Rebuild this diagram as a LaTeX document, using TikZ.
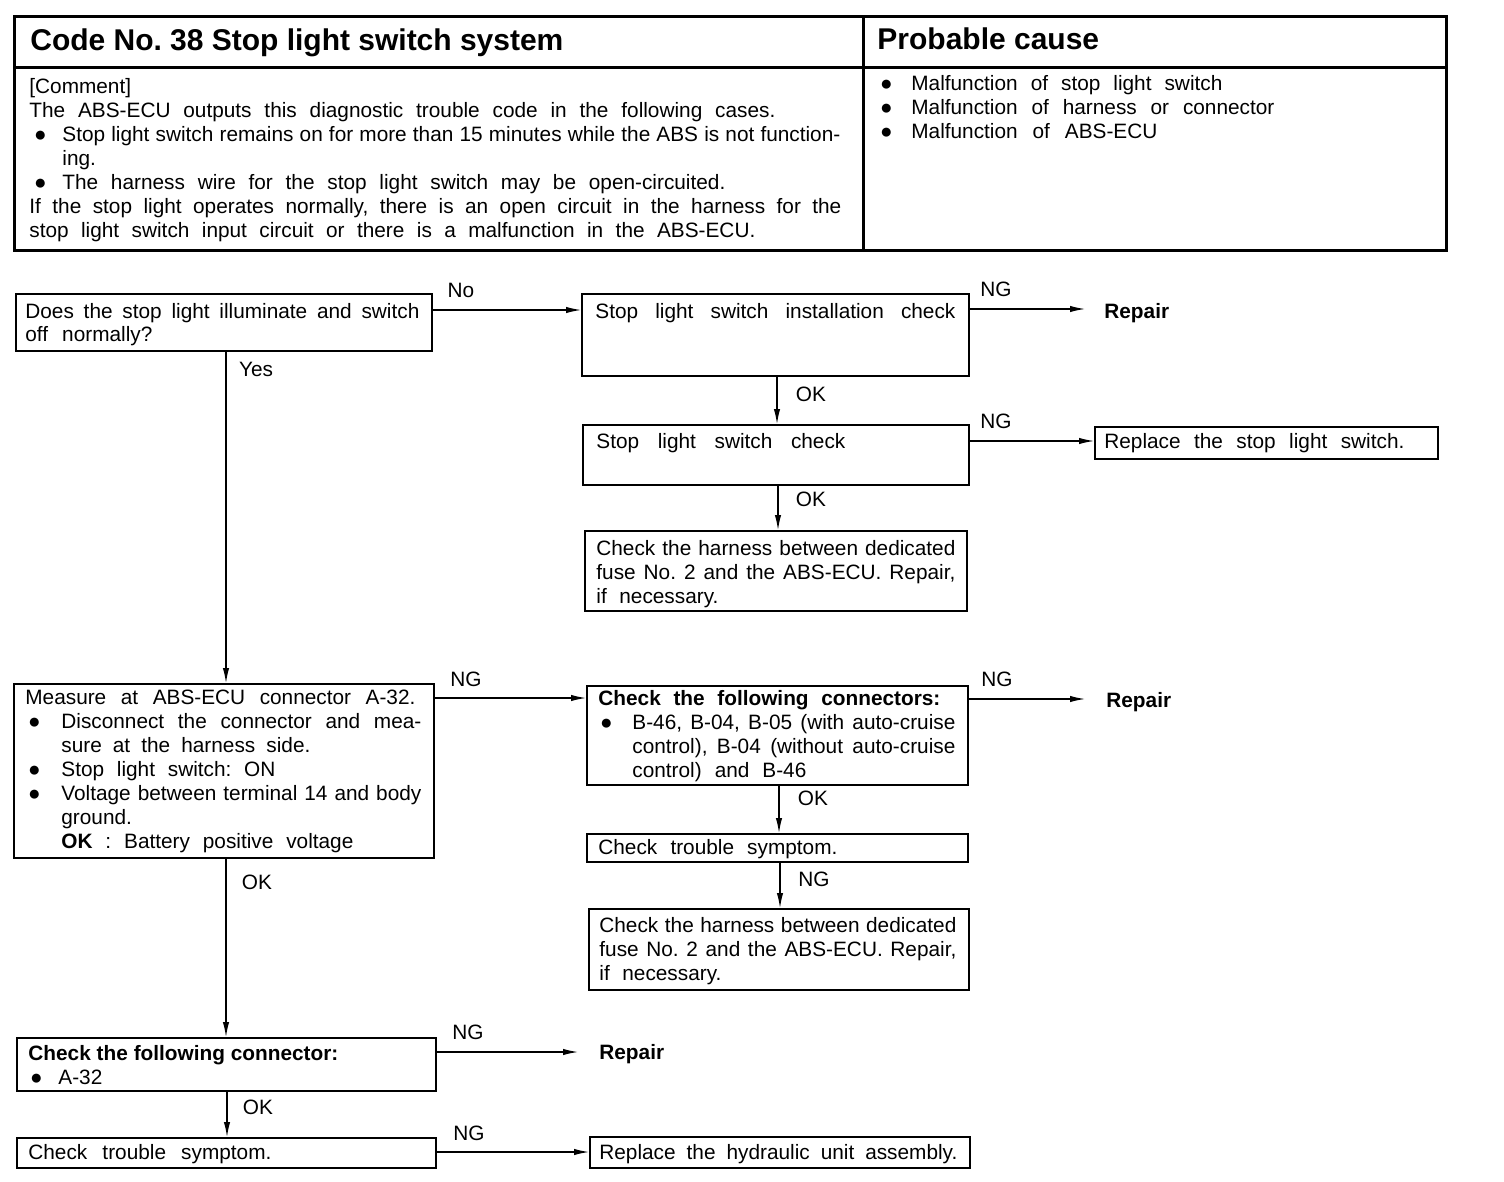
\documentclass[tikz,border=0pt]{standalone}
\usepackage{fontspec}
\setmainfont{Liberation Sans}
\usetikzlibrary{arrows.meta,calc}
\frenchspacing
\newdimen\pxu \pxu=0.5pt
\newcommand\fs{\fontsize{10.4}{12}\selectfont}
\newcommand\sj[2]{\leavevmode\hbox to #1\pxu{\spaceskip=\fontdimen2\font plus 1fil minus \fontdimen4\font\relax #2}}
\newcommand\bdot{●}
\newcommand\bul[2]{\makebox[#1\pxu][l]{\makebox[#2\pxu][c]{\bdot}}}
\newcommand\ind[1]{\hspace*{#1\pxu}}
\begin{document}
\begin{tikzpicture}[x=0.5pt,y=-0.5pt,font=\fs,
  bx/.style={draw, line width=1.1pt, inner sep=0pt, anchor=north west},
  tb/.style={draw, line width=1.3pt, inner sep=0pt, anchor=north west},
  txt/.style={anchor=base west, inner sep=0pt, align=left},
  lab/.style={anchor=base, inner sep=0pt},
  rep/.style={anchor=base west, inner sep=0pt, font=\fs\bfseries},
  arr/.style={line width=0.6pt, -{Latex[length=7.5pt,width=3.2pt]}}]
\useasboundingbox[fill=white] (0,0) rectangle (1504,1182);
% ---------- header table ----------
\node[tb, minimum width=424.5pt, minimum height=25.5pt] (h1) at (13,15) {};
\node[tb, minimum width=291.5pt, minimum height=25.5pt] (h2) at (862,15) {};
\node[tb, minimum width=424.5pt, minimum height=91.5pt] (c1) at (13,66) {};
\node[tb, minimum width=291.5pt, minimum height=91.5pt] (c2) at (862,66) {};
\node[txt, font={\fontsize{15}{18}\selectfont\bfseries}] (title) at (30,51) {\sj{533}{Code No. 38 Stop light switch system}};
\node[txt, font={\fontsize{15}{18}\selectfont\bfseries}] (ptitle) at (877,50) {Probable cause};
\node[txt, text width=410pt] (tcom) at (29,94) {[Comment]\\
\sj{746}{The ABS-ECU outputs this diagnostic trouble code in the following cases.}\\
\bul{33}{22}\sj{778}{Stop light switch remains on for more than 15 minutes while the ABS is not function-}\\
\ind{33}ing.\\
\bul{33}{22}\sj{663}{The harness wire for the stop light switch may be open-circuited.}\\
\sj{812}{If the stop light operates normally, there is an open circuit in the harness for the}\\
\sj{726}{stop light switch input circuit or there is a malfunction in the ABS-ECU.}};
\node[txt, text width=270pt] (tcause) at (877,91) {\bul{34}{18}\sj{311}{Malfunction of stop light switch}\\
\bul{34}{18}\sj{363}{Malfunction of harness or connector}\\
\bul{34}{18}\sj{246}{Malfunction of ABS-ECU}};
% ---------- boxes ----------
\node[bx, minimum width=208pt, minimum height=28.5pt] (b1) at (15,293) {};
\node[txt, text width=200pt] (t1) at (25,318) {\sj{394}{Does the stop light illuminate and switch}\\ \sj{127}{off normally?}};
\node[bx, minimum width=193.5pt, minimum height=41pt] (b2) at (581,293) {};
\node[txt, text width=185pt] (t2) at (595,318) {\sj{360}{Stop light switch installation check}};
\node[bx, minimum width=193pt, minimum height=30pt] (b3) at (582,424) {};
\node[txt, text width=185pt] (t3) at (596,448) {\sj{249}{Stop light switch check}};
\node[bx, minimum width=171.5pt, minimum height=16pt] (b3r) at (1094,426) {};
\node[txt, text width=165pt] (t3r) at (1104,448) {\sj{300}{Replace the stop light switch.}};
\node[bx, minimum width=191pt, minimum height=40pt] (b4) at (584,530) {};
\node[txt, text width=185pt] (t4) at (596,555) {\sj{359}{Check the harness between dedicated}\\ \sj{359}{fuse No. 2 and the ABS-ECU. Repair,}\\ \sj{122}{if necessary.}};
\node[bx, minimum width=210pt, minimum height=87pt] (b5) at (13,683) {};
\node[txt, text width=205pt] (t5) at (25,704) {\sj{390}{Measure at ABS-ECU connector A-32.}\\
\bul{36}{18}\sj{360}{Disconnect the connector and mea-}\\
\ind{36}\sj{249}{sure at the harness side.}\\
\bul{36}{18}\sj{214}{Stop light switch: ON}\\
\bul{36}{18}\sj{360}{Voltage between terminal 14 and body}\\
\ind{36}ground.\\
\ind{36}\sj{292}{\textbf{OK} : Battery positive voltage}};
\node[bx, minimum width=190.5pt, minimum height=49.5pt] (b6) at (586,685) {};
\node[txt, text width=185pt] (t6) at (598,705) {\sj{342}{\bfseries Check the following connectors:}\\
\bul{34}{16}\sj{323}{B-46, B-04, B-05 (with auto-cruise}\\
\ind{34}\sj{323}{control), B-04 (without auto-cruise}\\
\ind{34}\sj{174}{control) and B-46}};
\node[bx, minimum width=190.5pt, minimum height=14pt] (b7) at (586,833) {};
\node[txt, text width=185pt] (t7) at (598,854) {\sj{239}{Check trouble symptom.}};
\node[bx, minimum width=190pt, minimum height=40.5pt] (b8) at (588,908) {};
\node[txt, text width=185pt] (t8) at (599,932) {\sj{357}{Check the harness between dedicated}\\ \sj{357}{fuse No. 2 and the ABS-ECU. Repair,}\\ \sj{122}{if necessary.}};
\node[bx, minimum width=209.5pt, minimum height=26.5pt] (b9) at (16,1037) {};
\node[txt, text width=200pt] (t9) at (28,1060) {\sj{310}{\bfseries Check the following connector:}\\
\bul{30}{16}A-32};
\node[bx, minimum width=209.5pt, minimum height=15pt] (b10) at (16,1137) {};
\node[txt, text width=200pt] (t10) at (28,1159) {\sj{243}{Check trouble symptom.}};
\node[bx, minimum width=190pt, minimum height=15.5pt] (b11) at (589,1136) {};
\node[txt, text width=185pt] (t11) at (599,1159) {\sj{358}{Replace the hydraulic unit assembly.}};
% ---------- repair labels ----------
\node[rep] (r1) at (1104,318) {Repair};
\node[rep] (r2) at (1106,707) {Repair};
\node[rep] (r3) at (599,1059) {Repair};
\coordinate (r1e) at ($(r1.base west)+(-19,-9)$);
\coordinate (r2e) at ($(r2.base west)+(-21,-8)$);
\coordinate (r3e) at ($(r3.base west)+(-21,-7)$);
% ---------- connectors ----------
\draw[arr] (b1.east |- 0,310) -- (b2.west |- 0,310);
\draw[arr] (b2.east |- r1e) -- (r1e);
\draw[arr] (b2.south -| 777,0) -- (b3.north -| 777,0);
\draw[arr] (b3.east |- 0,441) -- (b3r.west |- 0,441);
\draw[arr] (b3.south -| 778,0) -- (b4.north -| 778,0);
\draw[arr] (b1.south -| 226,0) -- (b5.north -| 226,0);
\draw[arr] (b5.east |- 0,698) -- (b6.west |- 0,698);
\draw[arr] (b6.east |- r2e) -- (r2e);
\draw[arr] (b6.south -| 779,0) -- (b7.north -| 779,0);
\draw[arr] (b7.south -| 780,0) -- (b8.north -| 780,0);
\draw[arr] (b5.south -| 226,0) -- (b9.north -| 226,0);
\draw[arr] (b9.east |- r3e) -- (r3e);
\draw[arr] (b9.south -| 227,0) -- (b10.north -| 227,0);
\draw[arr] (b10.east |- 0,1152) -- (b11.west |- 0,1152);
% ---------- connector labels ----------
\node[lab] (l1) at (461,298) {No};
\node[lab] (l2) at (996,296) {NG};
\node[lab] (l3) at (811,401) {OK};
\node[lab] (l4) at (996,428) {NG};
\node[lab] (l5) at (811,506) {OK};
\node[lab] (l6) at (256,376) {Yes};
\node[lab] (l7) at (466,686) {NG};
\node[lab] (l8) at (997,686) {NG};
\node[lab] (l9) at (813,805) {OK};
\node[lab] (l10) at (814,886) {NG};
\node[lab] (l11) at (257,889) {OK};
\node[lab] (l12) at (468,1039) {NG};
\node[lab] (l13) at (258,1114) {OK};
\node[lab] (l14) at (469,1140) {NG};
\end{tikzpicture}
\end{document}
